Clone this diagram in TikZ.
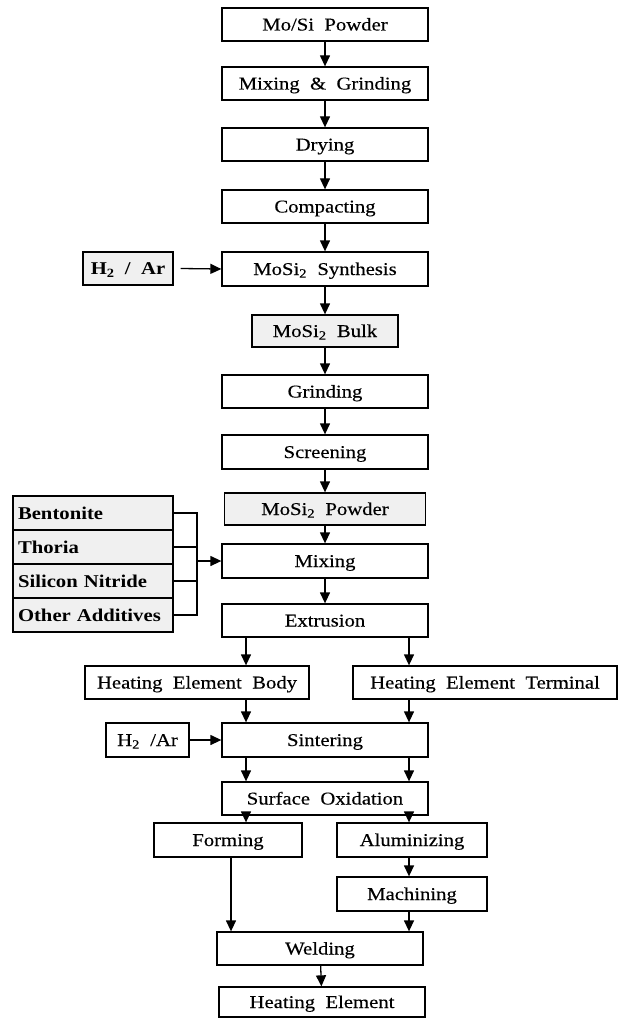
\documentclass[tikz,border=0pt]{standalone}
\usepackage{fontspec}
\setmainfont{Liberation Serif}[FakeStretch=1.15,WordSpace=2,UprightFeatures={FakeBold=0.3}]
\usetikzlibrary{arrows.meta}
\tikzset{
  stepbox/.style = {draw, line width=1.3pt, minimum height=33pt, minimum width=206pt,
                    inner sep=0pt, text height=16pt, text depth=4pt,
                    font=\fontsize{18}{20}\selectfont},
  shadebox/.style = {stepbox, fill=gray!12},
  addbox/.style = {shadebox, minimum height=34pt, minimum width=160pt, text width=150pt,
                   align=left, inner xsep=5pt, font=\fontsize{18}{20}\selectfont\bfseries},
  flow/.style = {line width=1.3pt, -{Triangle[length=11pt,width=10pt]}},
  link/.style = {line width=1.3pt}
}
\newcommand{\msi}{MoSi\textsubscript{2}}

\begin{document}
\begin{tikzpicture}[x=1pt, y=-1pt]
  \useasboundingbox (0,0) rectangle (620,1019);
  % main chain
  \node[stepbox] (mosi) at (325,24.5) {Mo/Si Powder};
  \node[stepbox] (mixgrind) at (325,83.5) {Mixing \& Grinding};
  \node[stepbox] (drying) at (325,144.5) {Drying};
  \node[stepbox] (compact) at (325,206.5) {Compacting};
  \node[stepbox, minimum height=34pt] (synth) at (325,269) {\msi\ Synthesis};
  \node[shadebox, font=\fontsize{18}{20}\selectfont\bfseries, minimum width=90pt] (gasA) at (128,268.5) {H\textsubscript{2} / Ar};
  \node[shadebox, minimum width=146pt, minimum height=32pt] (bulk) at (325,331) {\msi\ Bulk};
  \node[stepbox] (grind) at (325,391.5) {Grinding};
  \node[stepbox, minimum height=34pt] (screen) at (325,452) {Screening};
  \node[shadebox, minimum width=201pt, minimum height=32pt] (powder) at (325,509) {\msi\ Powder};
  \node[stepbox, minimum height=34pt] (mixing) at (325,561) {Mixing};
  \node[stepbox] (extrude) at (325,620.5) {Extrusion};
  % additives
  \node[addbox] (bent) at (93,513) {Bentonite};
  \node[addbox] (thoria) at (93,547) {Thoria};
  \node[addbox] (nitride) at (93,581) {Silicon Nitride};
  \node[addbox] (other) at (93,615) {Other Additives};
  \coordinate (bus) at (197,0);
  % two branches
  \coordinate (lx) at (246,0);
  \coordinate (rx) at (409,0);
  \node[stepbox, minimum width=224pt] (body) at (197,682.5) {Heating Element Body};
  \node[stepbox, minimum width=264pt] (term) at (485,682.5) {Heating Element Terminal};
  \node[stepbox, minimum height=34pt] (sinter) at (325,740) {Sintering};
  \node[stepbox, minimum width=83pt, minimum height=34pt] (gasB) at (147.5,740) {H\textsubscript{2} /Ar};
  \node[stepbox] (oxid) at (325,798.5) {Surface Oxidation};
  \node[stepbox, minimum width=148pt, minimum height=34pt] (forming) at (228,840) {Forming};
  \node[stepbox, minimum width=150pt, minimum height=34pt] (alum) at (412,840) {Aluminizing};
  \node[stepbox, minimum width=150pt, minimum height=34pt] (machine) at (412,894) {Machining};
  \node[stepbox] (weld) at (320,948.5) {Welding};
  \node[stepbox, minimum height=30pt] (element) at (322,1002) {Heating Element};

  \draw[flow] (mosi) -- (mixgrind);
  \draw[flow] (mixgrind) -- (drying);
  \draw[flow] (drying) -- (compact);
  \draw[flow] (compact) -- (synth);
  \draw[flow] (gasA.east) ++(7,0) -- (synth.west);
  \draw[flow] (synth) -- (bulk);
  \draw[flow] (bulk) -- (grind);
  \draw[flow] (grind) -- (screen);
  \draw[flow] (screen) -- (powder);
  \draw[flow] (powder) -- (mixing);
  \draw[flow] (mixing) -- (extrude);
  \draw[link] (bent.east) -- (bent.east -| bus) -- (other.east -| bus) -- (other.east);
  \draw[link] (thoria.east) -- (thoria.east -| bus);
  \draw[link] (nitride.east) -- (nitride.east -| bus);
  \draw[flow] (mixing.west -| bus) -- (mixing.west);
  \draw[flow] (extrude.south -| lx) -- (body.north -| lx);
  \draw[flow] (extrude.south -| rx) -- (term.north -| rx);
  \draw[flow] (body.south -| lx) -- (sinter.north -| lx);
  \draw[flow] (term.south -| rx) -- (sinter.north -| rx);
  \draw[flow] (gasB) -- (sinter);
  \draw[flow] (sinter.south -| lx) -- (oxid.north -| lx);
  \draw[flow] (sinter.south -| rx) -- (oxid.north -| rx);
  \draw[flow] (oxid.south -| lx) -- (forming.north -| lx);
  \draw[flow] (oxid.south -| rx) -- (alum.north -| rx);
  \draw[flow] (alum.south -| rx) -- (machine.north -| rx);
  \draw[flow] ([xshift=3pt]forming.south) -- ([xshift=3pt]forming.south |- weld.north);
  \draw[flow] (machine.south -| rx) -- (weld.north -| rx);
  \draw[flow] (weld) -- (element);
\end{tikzpicture}
\end{document}
